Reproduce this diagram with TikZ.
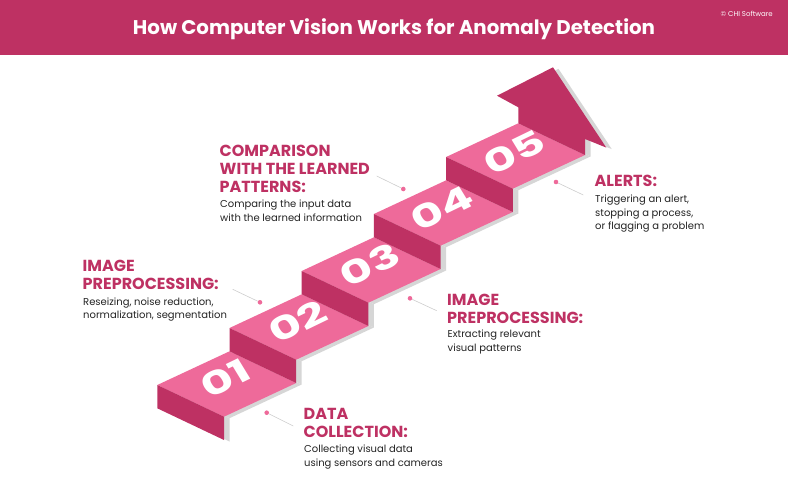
\documentclass[tikz,border=0pt]{standalone}
\usepackage{fontspec}
\setmainfont{Poppins}
\definecolor{crimson}{RGB}{190,49,99}
\definecolor{lightpink}{RGB}{238,106,154}
\definecolor{shadowgray}{RGB}{214,214,214}
\definecolor{bodytext}{RGB}{35,35,35}
\definecolor{leadergray}{RGB}{205,205,205}
\begin{document}
\begin{tikzpicture}[x=1pt,y=-1pt,
  hd/.style={anchor=base west, inner sep=0pt, text=crimson, font=\fontsize{16}{18}\selectfont\bfseries},
  bd/.style={anchor=base west, inner sep=0pt, text=bodytext, font=\fontsize{10}{13}\selectfont},
  topface/.style={fill=lightpink},
  riser/.style={fill=crimson},
  digit/.style={inner sep=0pt, text=white, font=\fontsize{34}{34}\selectfont\bfseries, cm={1.28,0.62,-0.5,0.82,(0,0)}},
  dot/.style={circle, fill=lightpink, inner sep=0pt, minimum size=4.6pt},
  leader/.style={draw=leadergray, line width=0.6pt}
]
\useasboundingbox (0,0) rectangle (788,480);
% header
\fill[crimson] (0,0) rectangle (788,55);
\node[anchor=base, inner sep=0pt, text=white, font=\fontsize{19.8}{22}\selectfont\bfseries] (title) at (394,34.5) {How Computer Vision Works for Anomaly Detection};
\node[anchor=base east, inner sep=0pt, text=white, font=\fontsize{7}{8}\selectfont] (copy) at (773,16) {© CHI Software};

% shadow
\begin{scope}[shift={(5.5,1.5)}]
\fill[shadowgray] (157.3,385) -- (229.5,351.3) -- (296.2,383) -- (224,416.7) -- cycle;
\fill[shadowgray] (229.5,328) -- (301.7,294.3) -- (368.4,326) -- (296.2,359.7) -- cycle;
\fill[shadowgray] (301.7,271) -- (373.9,237.3) -- (440.6,269) -- (368.4,302.7) -- cycle;
\fill[shadowgray] (373.9,214) -- (446.1,180.3) -- (512.8,212) -- (440.6,245.7) -- cycle;
\fill[shadowgray] (446.1,157) -- (518.3,123.3) -- (585,155) -- (512.8,188.7) -- cycle;
\fill[shadowgray] (157.3,385) -- (224,416.7) -- (224,440) -- (157.3,408.3) -- cycle;
\fill[shadowgray] (229.5,328) -- (296.2,359.7) -- (296.2,383) -- (229.5,351.3) -- cycle;
\fill[shadowgray] (301.7,271) -- (368.4,302.7) -- (368.4,326) -- (301.7,294.3) -- cycle;
\fill[shadowgray] (373.9,214) -- (440.6,245.7) -- (440.6,269) -- (373.9,237.3) -- cycle;
\fill[shadowgray] (446.1,157) -- (512.8,188.7) -- (512.8,212) -- (446.1,180.3) -- cycle;
\fill[shadowgray] (518.3,123.3) -- (518.3,107.3) -- (497,95.7) -- (553,67.3) -- (606.3,147.6) -- (585,139) -- (585,155) -- cycle;
\end{scope}

% steps
\fill[topface] (157.3,385) -- (229.5,351.3) -- (296.2,383) -- (224,416.7) -- cycle;
\fill[riser] (157.3,385) -- (224,416.7) -- (224,440) -- (157.3,408.3) -- cycle;
\fill[topface] (229.5,328) -- (301.7,294.3) -- (368.4,326) -- (296.2,359.7) -- cycle;
\fill[riser] (229.5,328) -- (296.2,359.7) -- (296.2,383) -- (229.5,351.3) -- cycle;
\fill[topface] (301.7,271) -- (373.9,237.3) -- (440.6,269) -- (368.4,302.7) -- cycle;
\fill[riser] (301.7,271) -- (368.4,302.7) -- (368.4,326) -- (301.7,294.3) -- cycle;
\fill[topface] (373.9,214) -- (446.1,180.3) -- (512.8,212) -- (440.6,245.7) -- cycle;
\fill[riser] (373.9,214) -- (440.6,245.7) -- (440.6,269) -- (373.9,237.3) -- cycle;
\fill[topface] (446.1,157) -- (518.3,123.3) -- (585,155) -- (512.8,188.7) -- cycle;
\fill[riser] (446.1,157) -- (512.8,188.7) -- (512.8,212) -- (446.1,180.3) -- cycle;
% arrow
\fill[riser] (518.3,123.3) -- (518.3,107.3) -- (497,95.7) -- (553,67.3) -- (606.3,147.6) -- (585,139) -- (585,155) -- cycle;

% digits
\node[digit] (n1) at (225.2,378.5) {01};
\node[digit] (n2) at (297.5,321.5) {02};
\node[digit] (n3) at (369.7,264.5) {03};
\node[digit] (n4) at (441.9,208) {04};
\node[digit] (n5) at (514.1,152) {05};

% dots and leaders
\node[dot] (d4) at (403.3,189) {};
\coordinate (e4) at (376.7,176);
\draw[leader] (d4) -- (e4);
\node[dot] (d5) at (556,182) {};
\coordinate (e5) at (583.3,195);
\draw[leader] (d5) -- (e5);
\node[dot] (d2) at (260,302.3) {};
\coordinate (e2) at (232.7,289.3);
\draw[leader] (d2) -- (e2);
\node[dot] (d3) at (410,298.3) {};
\coordinate (e3) at (436.7,310.7);
\draw[leader] (d3) -- (e3);
\node[dot] (d1) at (266.7,412.7) {};
\coordinate (e1) at (293.3,426);
\draw[leader] (d1) -- (e1);

% texts: comparison
\node[hd] (h4a) at (219.5,156.7) {COMPARISON};
\node[hd] (h4b) at (219.5,174.5) {WITH THE LEARNED};
\node[hd] (h4c) at (219.5,192.3) {PATTERNS:};
\node[bd] (b4a) at (220,207.3) {Comparing the input data};
\node[bd] (b4b) at (220,221) {with the learned information};
% alerts
\node[hd] (h5a) at (594.5,186.7) {ALERTS:};
\node[bd] (b5a) at (595,202.3) {Triggering an alert,};
\node[bd] (b5b) at (595,216.1) {stopping a process,};
\node[bd] (b5c) at (595,229.9) {or flagging a problem};
% image preprocessing left
\node[hd] (h2a) at (82.5,271) {IMAGE};
\node[hd] (h2b) at (82.5,289) {PREPROCESSING:};
\node[bd] (b2a) at (83,305) {Reseizing, noise reduction,};
\node[bd] (b2b) at (83,318.5) {normalization, segmentation};
% image preprocessing right
\node[hd] (h3a) at (447,305) {IMAGE};
\node[hd] (h3b) at (447,323) {PREPROCESSING:};
\node[bd] (b3a) at (447.5,337.5) {Extracting relevant};
\node[bd] (b3b) at (447.5,351.2) {visual patterns};
% data collection
\node[hd] (h1a) at (303.5,419) {DATA};
\node[hd] (h1b) at (303.5,437) {COLLECTION:};
\node[bd] (b1a) at (304,452.5) {Collecting visual data};
\node[bd] (b1b) at (304,466.2) {using sensors and cameras};
\end{tikzpicture}
\end{document}
